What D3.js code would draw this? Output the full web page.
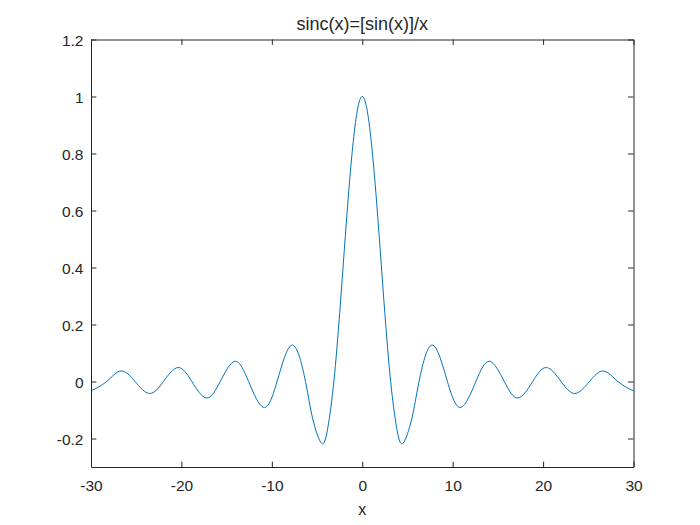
<!DOCTYPE html>
<html><head><meta charset="utf-8">
<script src="https://cdn.jsdelivr.net/npm/d3@7"></script>
<style>body{margin:0;background:#fff}svg{display:block}text{font-family:"Liberation Sans",Arial,sans-serif;fill:#262626}</style>
</head><body><svg id="c" width="700" height="525"></svg>
<script>
const xVals = [-30, -28.27, -26.67, -25.13, -23.52, -21.99, -20.37, -18.85, -17.22, -15.71, -14.07, -12.57, -10.90, -9.42, -7.73, -6.28, -5.5, -4.49, -3.8, -3.14, -2.5, -2, -1.5, -1, -0.5, 0,
  0.5, 1, 1.5, 2, 2.5, 3.14, 3.8, 4.49, 5.5, 6.28, 7.73, 9.42, 10.90, 12.57, 14.07, 15.71, 17.22, 18.85, 20.37, 21.99, 23.52, 25.13, 26.67, 28.27, 30];
const yVals = [-0.033, 0, 0.037, 0, -0.042, 0, 0.049, 0, -0.058, 0, 0.071, 0, -0.091, 0, 0.128, 0, -0.128, -0.217, -0.161, 0, 0.239, 0.455, 0.665, 0.841, 0.959, 1,
  0.959, 0.841, 0.665, 0.455, 0.239, 0, -0.161, -0.217, -0.128, 0, 0.128, 0, -0.091, 0, 0.071, 0, -0.058, 0, 0.049, 0, -0.042, 0, 0.037, 0, -0.033];
const xTicks = [-30, -20, -10, 0, 10, 20, 30];
const yTicks = [-0.2, 0, 0.2, 0.4, 0.6, 0.8, 1, 1.2];
const titleText = "sinc(x)=[sin(x)]/x";
const xLabelText = "x";

const L = 91, R = 633.5, T = 39.5, B = 467;
const svg = d3.select("#c");
const x = d3.scaleLinear().domain([-30, 30]).range([L, R]);
const y = d3.scaleLinear().domain([-0.3, 1.2]).range([B, T]);
const axColor = "#262626";
const tl = 5.4;

const pts = xVals.map((v, i) => [v, yVals[i]]);
svg.append("path").datum(pts)
  .attr("fill", "none").attr("stroke", "#0072BD").attr("stroke-width", 1)
  .attr("d", d3.line().x(d => x(d[0])).y(d => y(d[1])).curve(d3.curveNatural));

const fmt = d => String(Math.round(d * 10) / 10);
const gx = svg.append("g").attr("transform", `translate(0,${B})`)
  .call(d3.axisBottom(x).tickValues(xTicks).tickSizeInner(-tl).tickSizeOuter(0).tickFormat(fmt));
const gxt = svg.append("g").attr("transform", `translate(0,${T})`)
  .call(d3.axisTop(x).tickValues(xTicks).tickSizeInner(-tl).tickSizeOuter(0).tickFormat(""));
const gy = svg.append("g").attr("transform", `translate(${L},0)`)
  .call(d3.axisLeft(y).tickValues(yTicks).tickSizeInner(-tl).tickSizeOuter(0).tickFormat(fmt));
const gyr = svg.append("g").attr("transform", `translate(${R},0)`)
  .call(d3.axisRight(y).tickValues(yTicks).tickSizeInner(-tl).tickSizeOuter(0).tickFormat(""));
[gx, gxt, gy, gyr].forEach(g => {
  g.attr("font-size", null).attr("font-family", null);
  g.select(".domain").attr("stroke", axColor).attr("stroke-width", 1);
  g.selectAll(".tick line").attr("stroke", axColor);
  g.selectAll("text").style("font-size", "15.5px").style("fill", axColor)
    .style("font-family", '"Liberation Sans",Arial,sans-serif');
});
gx.selectAll(".tick text").attr("dy", null).attr("y", 24);
gy.selectAll(".tick text").attr("x", -7.5).attr("dy", "0.36em");

svg.append("text").attr("x", (L + R) / 2).attr("y", 29.5).attr("text-anchor", "middle")
  .style("font-size", "18px").text(titleText);
svg.append("text").attr("x", (L + R) / 2).attr("y", 515).attr("text-anchor", "middle")
  .style("font-size", "16px").text(xLabelText);
</script></body></html>
